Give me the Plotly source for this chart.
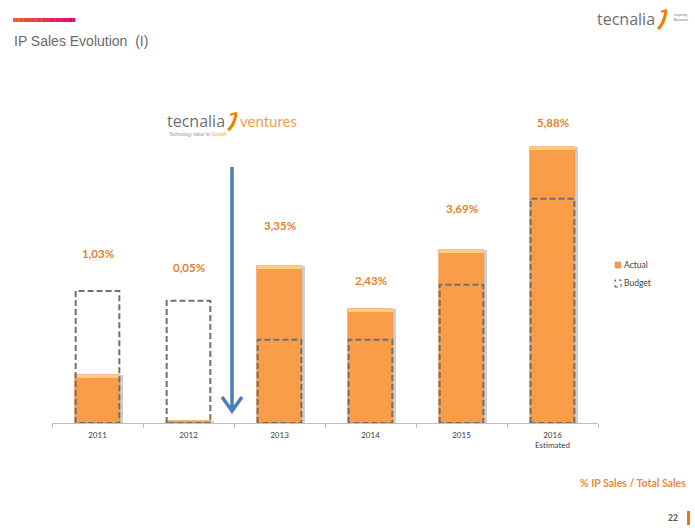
import plotly.graph_objects as go

# ---------------- data ----------------
years = ["2011", "2012", "2013", "2014", "2015", "2016<br>Estimated"]
actual = [1.03, 0.05, 3.35, 2.43, 3.69, 5.88]      # % IP sales / total sales
budget = [2.81, 2.60, 1.77, 1.77, 2.94, 4.77]      # budget level
legend_names = ["Actual", "Budget"]

labels = [f"{v:.2f}".replace(".", ",") + "%" for v in actual]
idx = list(range(len(years)))

# ---------------- layout helpers (pixel -> paper) ----------------
W, H = 695, 528
L, R, T, B = 52, 97, 100, 105
PW, PH = W - L - R, H - T - B


def px(x):
    return (x - L) / PW


def py(y):
    return (H - B - y) / PH


# vertical pixel positions of the percentage labels (layout, not data)
label_py = [254, 267, 225, 280, 208, 122]

ORANGE = "#F99D48"
CAP = "#FDCB86"
LABEL = "#E57F2E"
GREY = "#707070"
BW = 0.49
yscale = 47.0  # px per unit
ymax = PH / yscale

fig = go.Figure()

# shadow of actual bars
fig.add_trace(go.Bar(x=idx, y=actual, width=BW, offset=-BW / 2 + 0.04,
                     marker=dict(color="rgba(80,80,80,0.28)", line=dict(width=0)),
                     hoverinfo="skip", showlegend=False))
# actual bars
fig.add_trace(go.Bar(x=idx, y=actual, width=BW, offset=-BW / 2, name=legend_names[0],
                     marker=dict(color=ORANGE, line=dict(color="#EE8A3A", width=0.6)),
                     showlegend=False))
# lighter top cap
cap = 0.065
fig.add_trace(go.Bar(x=idx, y=[cap if v > 0.3 else None for v in actual],
                     base=[v - cap for v in actual], width=BW, offset=-BW / 2,
                     marker=dict(color=CAP, line=dict(width=0)),
                     hoverinfo="skip", showlegend=False))

# budget dashed outlines
bx, byv = [], []
hw = 0.24
for i, b in zip(idx, budget):
    bx += [i - hw, i - hw, i + hw, i + hw, i - hw, None]
    byv += [0, b, b, 0, 0, None]
fig.add_trace(go.Scatter(x=bx, y=byv, mode="lines", name=legend_names[1],
                         line=dict(color=GREY, width=2, dash="6px,3px"),
                         hoverinfo="skip", showlegend=False))

shapes = []
annotations = []

# percentage labels
for i, t, yy in zip(idx, labels, label_py):
    annotations.append(dict(text="<b>" + t + "</b>", xref="x", yref="paper",
                            x=i, y=py(yy), xanchor="center", yanchor="middle",
                            showarrow=False,
                            font=dict(family="Lato", size=11.5, color=LABEL)))

# title gradient bar
n = 24
x0, x1 = 13, 75
c0 = (232, 98, 40)
c1 = (228, 0, 126)
for k in range(n):
    t = k / (n - 1)
    col = "rgb(%d,%d,%d)" % tuple(int(c0[j] + (c1[j] - c0[j]) * t) for j in range(3))
    xa = x0 + (x1 - x0) * k / n
    xb = x0 + (x1 - x0) * (k + 1) / n + 0.3
    shapes.append(dict(type="rect", xref="paper", yref="paper",
                       x0=px(xa), x1=px(xb), y0=py(22), y1=py(18),
                       fillcolor=col, line=dict(width=0), layer="above"))

annotations.append(dict(text="IP Sales Evolution\u00a0 (I)", xref="paper", yref="paper",
                        x=px(12), y=py(41), xanchor="left", yanchor="middle",
                        showarrow=False,
                        font=dict(family="Liberation Sans", size=14, color="#6A6A6A")))

# tecnalia logo (top right)
annotations.append(dict(text="tecnalia", xref="paper", yref="paper",
                        x=px(657), y=py(19), xanchor="right", yanchor="middle",
                        showarrow=False,
                        font=dict(family="Open Sans", size=16, color="#6E6E6E")))
shapes.append(dict(type="path", xref="paper", yref="paper",
                   path=f"M {px(666)},{py(11)} Q {px(664)},{py(24)} {px(658)},{py(29)}",
                   line=dict(color="#F07D00", width=3)))
shapes.append(dict(type="path", xref="paper", yref="paper",
                   path=f"M {px(661)},{py(12)} Q {px(664)},{py(10.5)} {px(667)},{py(10)}",
                   line=dict(color="#F07D00", width=2)))
annotations.append(dict(text="Inspiring<br>Business", xref="paper", yref="paper",
                        x=px(672), y=py(18), xanchor="left", yanchor="middle",
                        showarrow=False, align="left",
                        font=dict(family="Liberation Sans", size=3.5, color="#777777")))

# tecnalia ventures logo
annotations.append(dict(text="tecnalia", xref="paper", yref="paper",
                        x=px(227), y=py(121), xanchor="right", yanchor="middle",
                        showarrow=False,
                        font=dict(family="Open Sans", size=16, color="#707070")))
shapes.append(dict(type="path", xref="paper", yref="paper",
                   path=f"M {px(236)},{py(114)} Q {px(234)},{py(126)} {px(228)},{py(130)}",
                   line=dict(color="#F07D00", width=3)))
shapes.append(dict(type="path", xref="paper", yref="paper",
                   path=f"M {px(230)},{py(115)} Q {px(233)},{py(113.5)} {px(237)},{py(113)}",
                   line=dict(color="#F07D00", width=2)))
annotations.append(dict(text="ventures", xref="paper", yref="paper",
                        x=px(238), y=py(121), xanchor="left", yanchor="middle",
                        showarrow=False,
                        font=dict(family="Lato", size=15, color="#F2A24A")))
annotations.append(dict(text="Technology Value for <span style='color:#F2A24A'>Growth</span>",
                        xref="paper", yref="paper",
                        x=px(167), y=py(134), xanchor="left", yanchor="middle",
                        showarrow=False,
                        font=dict(family="Liberation Sans", size=4.5, color="#8A9AB0")))

# blue arrow
AC = "#4A7EBB"
shapes.append(dict(type="path", xref="paper", yref="paper",
                   path=f"M {px(232)},{py(167)} L {px(232)},{py(410)}",
                   line=dict(color=AC, width=3.5)))
shapes.append(dict(type="path", xref="paper", yref="paper",
                   path=f"M {px(222)},{py(397)} L {px(232)},{py(411)} L {px(242)},{py(397)}",
                   line=dict(color=AC, width=3.5)))

# custom legend
shapes.append(dict(type="rect", xref="paper", yref="paper",
                   x0=px(615), x1=px(621), y0=py(268), y1=py(262),
                   fillcolor=ORANGE, line=dict(color="#C88A50", width=0.5)))
annotations.append(dict(text=legend_names[0], xref="paper", yref="paper",
                        x=px(622), y=py(265), xanchor="left", yanchor="middle",
                        showarrow=False,
                        font=dict(family="Lato", size=8.5, color="#404040")))
shapes.append(dict(type="rect", xref="paper", yref="paper",
                   x0=px(615), x1=px(621), y0=py(287), y1=py(280),
                   fillcolor="rgba(0,0,0,0)", line=dict(color="#555555", width=1, dash="dot")))
annotations.append(dict(text=legend_names[1], xref="paper", yref="paper",
                        x=px(622), y=py(283), xanchor="left", yanchor="middle",
                        showarrow=False,
                        font=dict(family="Lato", size=8.5, color="#404040")))

# footer
annotations.append(dict(text="<b>% IP Sales / Total Sales</b>", xref="paper", yref="paper",
                        x=px(688), y=py(483), xanchor="right", yanchor="middle",
                        showarrow=False,
                        font=dict(family="Lato", size=10.5, color="#E98B3A")))
annotations.append(dict(text="<b>22</b>", xref="paper", yref="paper",
                        x=px(680), y=py(518), xanchor="right", yanchor="middle",
                        showarrow=False,
                        font=dict(family="Lato", size=8.5, color="#555555")))
shapes.append(dict(type="rect", xref="paper", yref="paper",
                   x0=px(687), x1=px(690), y0=py(525), y1=py(511),
                   fillcolor="#E8702A", line=dict(width=0)))

fig.update_layout(
    width=W, height=H, autosize=False,
    margin=dict(l=L, r=R, t=T, b=B, pad=0),
    paper_bgcolor="white", plot_bgcolor="white",
    barmode="overlay", bargap=0,
    showlegend=False,
    shapes=shapes, annotations=annotations,
    xaxis=dict(range=[-0.5, 5.5], tickmode="array", tickvals=idx, ticktext=years,
               showline=True, linecolor="#BFBFBF", linewidth=1, ticks="",
               showgrid=False, zeroline=False, fixedrange=True, ticklabelstandoff=4,
               tickfont=dict(family="Lato", size=8, color="#404040"),
               minor=dict(tickmode="array", tickvals=[i - 0.5 for i in range(7)],
                          ticks="outside", ticklen=4, tickcolor="#BFBFBF", showgrid=False)),
    yaxis=dict(range=[0, ymax], visible=False, fixedrange=True),
)

fig.write_html("out.html", config={"displayModeBar": False},
               post_script="document.body.style.margin='0';document.body.style.overflow='hidden';")
